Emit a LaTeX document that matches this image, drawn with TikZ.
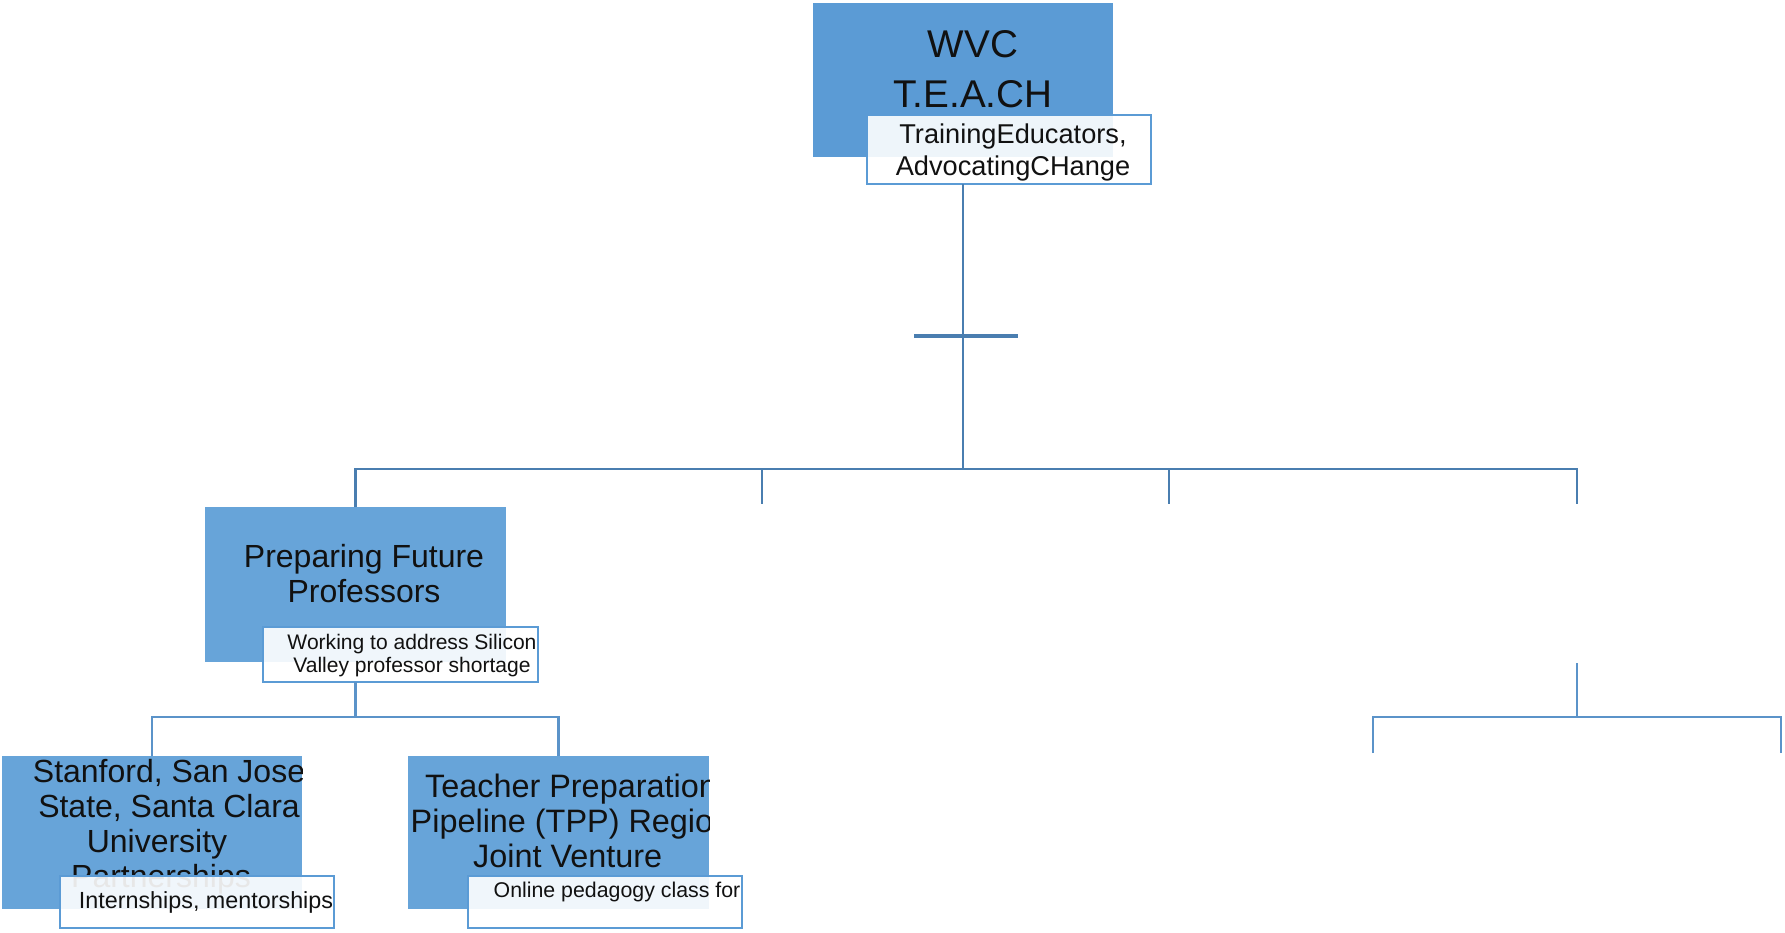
\documentclass[tikz,border=0pt]{standalone}
\usepackage{fontspec}
\setmainfont{Liberation Sans}
\definecolor{mainblue}{HTML}{5B9BD5}
\definecolor{boxblue}{HTML}{67A4D9}
\definecolor{subline}{HTML}{5B9BD5}
\definecolor{lineblue}{HTML}{4A7EB0}
\definecolor{lineblueb}{HTML}{5B93C9}
\definecolor{txt}{HTML}{111111}
\begin{document}
\begin{tikzpicture}[x=0.75pt,y=-0.75pt,
  bluebox/.style={rectangle, fill=#1, inner sep=0pt, outer sep=0pt},
  subbox/.style={rectangle, draw=subline, line width=1.6pt, fill=white, fill opacity=0.9, inner sep=0pt, outer sep=0pt},
  label/.style={inner sep=0pt, anchor=base, align=center, text=txt},
  conn/.style={draw=lineblue, line width=1.9pt},
  connb/.style={draw=lineblueb, line width=2.2pt}]
\useasboundingbox (0,0) rectangle (1785,932);

% ---- connector points
\coordinate (bus) at (963,469);
\coordinate (d2) at (762,504);
\coordinate (d3) at (1169,504);
\coordinate (d4) at (1577,504);
\coordinate (tl) at (914,336);
\coordinate (tr) at (1018,336);
\coordinate (pbus) at (355.5,717);
\coordinate (r0) at (1577,663);
\coordinate (rbus) at (1577,717);
\coordinate (rl) at (1373,753);
\coordinate (rr) at (1781,753);

% ---- boxes
\node[bluebox=mainblue, minimum width=225pt, minimum height=115.5pt] (main) at (963,80) {};
\node[bluebox=boxblue, minimum width=225.75pt, minimum height=116.25pt] (pfp) at (355.5,584.5) {};
\node[bluebox=boxblue, minimum width=225pt, minimum height=114.75pt] (stan) at (152,832.5) {};
\node[bluebox=boxblue, minimum width=225.75pt, minimum height=114.75pt] (tpp) at (558.5,832.5) {};

% ---- main texts (clipped to their boxes)
\begin{scope}
\clip (main.north west) rectangle (main.south east);
\node[label, font=\fontsize{29}{37.5}\selectfont] (maintxt) at (973,107) {WVC\\T.E.A.CH};
\end{scope}
\begin{scope}
\clip (pfp.north west) rectangle (pfp.south east);
\node[label, font=\fontsize{24}{26.25}\selectfont] (pfptxt) at (364,602) {Preparing Future\\Professors};
\end{scope}
\begin{scope}
\clip (stan.north west) rectangle (stan.south east);
\node[label, font=\fontsize{24}{26.25}\selectfont] (stantxt) at (169,887) {Stanford, San Jose\\State, Santa Clara\\University\rule{18pt}{0pt}\\Partnerships\rule{12pt}{0pt}};
\end{scope}
\begin{scope}
\clip (tpp.north west) rectangle (tpp.south east);
\node[label, font=\fontsize{24.3}{26.25}\selectfont] (tpptxt) at (571,867) {Teacher Preparation\\Pipeline (TPP) Region\\Joint Venture\rule{5pt}{0pt}};
\end{scope}

% ---- sub boxes
\node[subbox, minimum width=213pt, minimum height=51.75pt] (mainsub) at (1009,149.5) {};
\node[subbox, minimum width=206.25pt, minimum height=41.25pt] (pfpsub) at (400.5,654.5) {};
\node[subbox, minimum width=205.5pt, minimum height=39pt] (stansub) at (197,902) {};
\node[subbox, minimum width=205.5pt, minimum height=39pt] (tppsub) at (605,902) {};

% ---- connectors
\draw[conn] (main.south |- mainsub.south) -- (bus);
\draw[conn] (pfp.north) -- (pfp.north |- bus) -- (d4 |- bus) -- (d4);
\draw[conn] (d2 |- bus) -- (d2);
\draw[conn] (d3 |- bus) -- (d3);
\draw[conn, line width=3pt] (tl) -- (tr);
\draw[connb] (pfp.south |- pfpsub.south) -- (pbus);
\draw[connb] (stan.north) -- (stan.north |- pbus) -- (tpp.north |- pbus) -- (tpp.north);
\draw[connb] (r0) -- (rbus);
\draw[connb] (rl) -- (rl |- rbus) -- (rr |- rbus) -- (rr);

\begin{scope}
\clip (mainsub.north west) rectangle (mainsub.south east);
\node[label, font=\fontsize{20.4}{24}\selectfont] (mainsubtxt) at (1013,175) {TrainingEducators,\\AdvocatingCHange};
\end{scope}
\begin{scope}
\clip (pfpsub.north west) rectangle (pfpsub.south east);
\node[label, font=\fontsize{15.8}{17.25}\selectfont] (pfpsubtxt) at (412,672) {Working to address Silicon\\Valley professor shortage};
\end{scope}
\begin{scope}
\clip (stansub.north west) rectangle (stansub.south east);
\node[label, font=\fontsize{17.5}{20}\selectfont] (stansubtxt) at (206,908) {Internships, mentorships};
\end{scope}
\begin{scope}
\clip (tppsub.north west) rectangle (tppsub.south east);
\node[label, font=\fontsize{16}{18}\selectfont] (tppsubtxt) at (617,897) {Online pedagogy class for};
\end{scope}
\end{tikzpicture}
\end{document}
